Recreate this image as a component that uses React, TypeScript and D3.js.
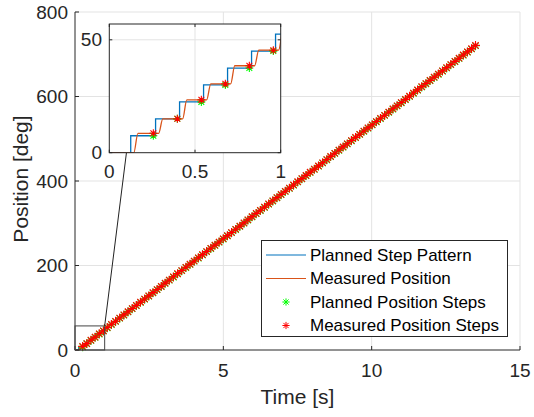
import React from 'react';
import * as d3 from 'd3';

// ---- data ----
const xTicks = [0, 5, 10, 15];
const yTicks = [0, 200, 400, 600, 800];
const insetXTicks = [0, 0.5, 1];
const insetXTickLabels = ['0', '0.5', '1'];
const insetYTicks = [0, 50];

// times [s] at which the planned step pattern jumps
const stepTimes = [
  0.125, 0.27, 0.41, 0.55, 0.69, 0.83, 0.97, 1.10, 1.24, 1.38, 1.52, 1.66, 1.80, 1.94, 2.08, 2.22,
  2.36, 2.50, 2.64, 2.78, 2.92, 3.05, 3.19, 3.33, 3.47, 3.61, 3.75, 3.89, 4.03, 4.17, 4.31, 4.45,
  4.59, 4.73, 4.87, 5.01, 5.15, 5.29, 5.43, 5.57, 5.71, 5.84, 5.98, 6.12, 6.26, 6.40, 6.54, 6.68,
  6.82, 6.96, 7.10, 7.24, 7.38, 7.52, 7.66, 7.80, 7.94, 8.08, 8.22, 8.36, 8.50, 8.63, 8.77, 8.91,
  9.05, 9.19, 9.33, 9.47, 9.61, 9.75, 9.89, 10.03, 10.17, 10.31, 10.45, 10.59, 10.73, 10.87, 11.01, 11.15,
  11.29, 11.42, 11.56, 11.70, 11.84, 11.98, 12.12, 12.26, 12.40, 12.54, 12.68, 12.82, 12.96, 13.10, 13.24, 13.38,
];

// planned position after each jump [deg]
const plannedSteps = [
  7.5, 15, 22.5, 30, 37.5, 45, 52.5, 60, 67.5, 75, 82.5, 90, 97.5, 105, 112.5, 120,
  127.5, 135, 142.5, 150, 157.5, 165, 172.5, 180, 187.5, 195, 202.5, 210, 217.5, 225, 232.5, 240,
  247.5, 255, 262.5, 270, 277.5, 285, 292.5, 300, 307.5, 315, 322.5, 330, 337.5, 345, 352.5, 360,
  367.5, 375, 382.5, 390, 397.5, 405, 412.5, 420, 427.5, 435, 442.5, 450, 457.5, 465, 472.5, 480,
  487.5, 495, 502.5, 510, 517.5, 525, 532.5, 540, 547.5, 555, 562.5, 570, 577.5, 585, 592.5, 600,
  607.5, 615, 622.5, 630, 637.5, 645, 652.5, 660, 667.5, 675, 682.5, 690, 697.5, 705, 712.5, 720,
];

// measured position after each step [deg]
const measuredSteps = [
  8.6, 15.0, 23.4, 30.5, 38.5, 45.4, 53.2, 60.8, 68.1, 75.9, 83.2, 90.7, 98.3, 105.6, 113.4, 120.8,
  128.1, 135.9, 143.2, 150.7, 158.4, 165.6, 173.3, 180.9, 188.1, 195.8, 203.2, 210.6, 218.4, 225.7, 233.1, 240.9,
  248.2, 255.6, 263.4, 270.8, 278.1, 285.7, 293.3, 300.9, 308.2, 315.6, 323.4, 330.7, 338.1, 345.9, 353.2, 360.6,
  368.3, 375.8, 383.1, 390.7, 398.4, 405.6, 413.2, 420.9, 428.1, 435.7, 443.3, 450.8, 458.2, 465.6, 473.4, 480.7,
  488.1, 495.9, 503.2, 510.6, 518.3, 525.8, 533.1, 540.7, 548.4, 555.6, 563.2, 570.9, 578.1, 585.7, 593.3, 600.8,
  608.2, 615.6, 623.4, 630.7, 638.1, 645.9, 653.2, 660.6, 668.3, 675.8, 683.1, 690.7, 698.4, 705.6, 713.2, 720.9,
];

const lastMarkerTime = 13.5;
const lineEndTime = 13.53;

const legendLabels = [
  'Planned Step Pattern',
  'Measured Position',
  'Planned Position Steps',
  'Measured Position Steps',
];

const BLUE = '#0072BD';
const ORANGE = '#D95319';
const GREEN = '#00FF00';
const RED = '#FF0000';
const AX = '#262626';
const GRID = '#e3e3e3';
const FONT = '"Liberation Sans", Arial, Helvetica, sans-serif';

function starPath(cx: number, cy: number, r: number) {
  const d = r * 0.72;
  return `M${cx - r},${cy}H${cx + r}M${cx},${cy - r}V${cy + r}` +
    `M${cx - d},${cy - d}L${cx + d},${cy + d}M${cx - d},${cy + d}L${cx + d},${cy - d}`;
}

export default function App() {
  const n = Math.min(stepTimes.length, plannedSteps.length, measuredSteps.length);

  // planned step pattern
  const planned: [number, number][] = [[0, 0]];
  for (let i = 0; i < n; i++) planned.push([stepTimes[i], plannedSteps[i]]);
  planned.push([lineEndTime, plannedSteps[n - 1]]);

  // measured position (smooth transition shortly after each planned jump)
  const measured: [number, number][] = [[0, 0]];
  for (let i = 0; i < n; i++) {
    const prev = i === 0 ? 0 : measuredSteps[i - 1];
    measured.push([stepTimes[i] + 0.018, prev]);
    measured.push([stepTimes[i] + 0.042, measuredSteps[i]]);
  }
  measured.push([lineEndTime, measuredSteps[n - 1]]);

  // step markers at end of each plateau
  const markers = d3.range(n).map((i) => ({
    t: i + 1 < n ? stepTimes[i + 1] - 0.013 : lastMarkerTime,
    p: plannedSteps[i],
    m: measuredSteps[i],
  }));

  // main axes
  const x = d3.scaleLinear().domain([0, 15]).range([75, 520]);
  const y = d3.scaleLinear().domain([0, 800]).range([350, 12]);
  // inset axes
  const xi = d3.scaleLinear().domain([0, 1]).range([109.3, 280.7]);
  const yi = d3.scaleLinear().domain([0, 57]).range([152.7, 24]);

  const stepLine = (sx: any, sy: any) =>
    d3.line<[number, number]>().x((d) => sx(d[0])).y((d) => sy(d[1])).curve(d3.curveStepAfter);
  const smoothLine = (sx: any, sy: any) =>
    d3.line<[number, number]>().x((d) => sx(d[0])).y((d) => sy(d[1])).curve(d3.curveMonotoneX);

  const [x0, x1] = x.range();
  const [y0, y1] = y.range();
  const [ix0, ix1] = xi.range();
  const [iy0, iy1] = yi.range();
  const tick = 4;

  const zoomX = x(1);
  const zoomY = y(57);

  const legX = 261.5, legY = 240.5, legW = 246, legH = 96;
  const rowY = [255, 278.5, 302, 325.5];

  return (
    <svg width={534} height={417} style={{ position: 'absolute', left: 0, top: 0, background: '#fff' }}
      fontFamily={FONT}>
      <defs>
        <clipPath id="mainClip"><rect x={x0} y={y1} width={x1 - x0} height={y0 - y1} /></clipPath>
        <clipPath id="insetClip"><rect x={ix0} y={iy1} width={ix1 - ix0} height={iy0 - iy1} /></clipPath>
      </defs>
      <rect x={0} y={0} width={534} height={417} fill="#fff" />

      {/* main grid */}
      {xTicks.filter((t) => t > 0).map((t) => (
        <line key={'gx' + t} x1={x(t)} x2={x(t)} y1={y0} y2={y1} stroke={GRID} strokeWidth={1} />
      ))}
      {yTicks.filter((t) => t > 0).map((t) => (
        <line key={'gy' + t} x1={x0} x2={x1} y1={y(t)} y2={y(t)} stroke={GRID} strokeWidth={1} />
      ))}

      {/* main data */}
      <g>
        <path d={stepLine(x, y)(planned) || ''} fill="none" stroke={BLUE} strokeWidth={1.2} />
        <path d={smoothLine(x, y)(measured) || ''} fill="none" stroke={ORANGE} strokeWidth={1.2} />
        <path d={markers.map((d) => starPath(x(d.t), y(d.p), 4.4)).join('')} fill="none" stroke={GREEN} strokeWidth={1.1} />
        <path d={markers.map((d) => starPath(x(d.t), y(d.m), 4.4)).join('')} fill="none" stroke={RED} strokeWidth={1.1} />
      </g>

      {/* main axes lines + ticks */}
      <line x1={x0} x2={x1} y1={y0} y2={y0} stroke={AX} strokeWidth={1} />
      <line x1={x0} x2={x0} y1={y0} y2={y1} stroke={AX} strokeWidth={1} />
      {xTicks.map((t) => (
        <g key={'xt' + t}>
          <line x1={x(t)} x2={x(t)} y1={y0} y2={y0 - tick} stroke={AX} />
          <text x={x(t)} y={377} textAnchor="middle" fontSize={19} fill={AX}>{t}</text>
        </g>
      ))}
      {yTicks.map((t) => (
        <g key={'yt' + t}>
          <line x1={x0} x2={x0 + tick} y1={y(t)} y2={y(t)} stroke={AX} />
          <text x={68} y={y(t)} dy="0.35em" textAnchor="end" fontSize={19} fill={AX}>{t}</text>
        </g>
      ))}
      <text x={(x0 + x1) / 2} y={404} textAnchor="middle" fontSize={21} fill={AX}>Time [s]</text>
      <text transform={`translate(28,${(y0 + y1) / 2 - 2}) rotate(-90)`} textAnchor="middle" fontSize={21} fill={AX}>
        Position [deg]
      </text>

      {/* zoom rectangle and connector */}
      <rect x={x(0)} y={zoomY} width={zoomX - x(0)} height={y(0) - zoomY} fill="none" stroke="#444" strokeWidth={1} />
      <line x1={zoomX} y1={zoomY} x2={xi(0.1)} y2={iy0} stroke="#222" strokeWidth={1} />

      {/* inset */}
      <rect x={ix0} y={iy1} width={ix1 - ix0} height={iy0 - iy1} fill="#fff" />
      <line x1={xi(0.5)} x2={xi(0.5)} y1={iy0} y2={iy1} stroke={GRID} />
      <line x1={ix0} x2={ix1} y1={yi(50)} y2={yi(50)} stroke={GRID} />
      <g clipPath="url(#insetClip)">
        <path d={stepLine(xi, yi)(planned) || ''} fill="none" stroke={BLUE} strokeWidth={1.3} />
        <path d={smoothLine(xi, yi)(measured) || ''} fill="none" stroke={ORANGE} strokeWidth={1.3} />
        <path d={markers.map((d) => starPath(xi(d.t), yi(d.p), 4)).join('')} fill="none" stroke={GREEN} strokeWidth={1.1} />
        <path d={markers.map((d) => starPath(xi(d.t), yi(d.m), 4)).join('')} fill="none" stroke={RED} strokeWidth={1.1} />
      </g>
      <rect x={ix0} y={iy1} width={ix1 - ix0} height={iy0 - iy1} fill="none" stroke={AX} strokeWidth={1} />
      {insetXTicks.map((t, i) => (
        <g key={'ixt' + t}>
          <line x1={xi(t)} x2={xi(t)} y1={iy0} y2={iy0 - 3} stroke={AX} />
          <line x1={xi(t)} x2={xi(t)} y1={iy1} y2={iy1 + 3} stroke={AX} />
          <text x={xi(t)} y={178} textAnchor="middle" fontSize={19} fill={AX}>{insetXTickLabels[i]}</text>
        </g>
      ))}
      {insetYTicks.map((t) => (
        <g key={'iyt' + t}>
          <line x1={ix0} x2={ix0 + 3} y1={yi(t)} y2={yi(t)} stroke={AX} />
          <line x1={ix1} x2={ix1 - 3} y1={yi(t)} y2={yi(t)} stroke={AX} />
          <text x={102} y={yi(t)} dy="0.35em" textAnchor="end" fontSize={19} fill={AX}>{t}</text>
        </g>
      ))}

      {/* legend */}
      <rect x={legX} y={legY} width={legW} height={legH} fill="#fff" stroke={AX} strokeWidth={1} />
      <line x1={266} x2={306} y1={rowY[0]} y2={rowY[0]} stroke={BLUE} strokeWidth={1.2} />
      <line x1={266} x2={306} y1={rowY[1]} y2={rowY[1]} stroke={ORANGE} strokeWidth={1.2} />
      <path d={starPath(286, rowY[2], 3.6)} fill="none" stroke={GREEN} strokeWidth={1} />
      <path d={starPath(286, rowY[3], 3.6)} fill="none" stroke={RED} strokeWidth={1} />
      {legendLabels.map((l, i) => (
        <text key={l} x={310} y={rowY[i]} dy="0.35em" fontSize={17} fill="#000">{l}</text>
      ))}
    </svg>
  );
}
